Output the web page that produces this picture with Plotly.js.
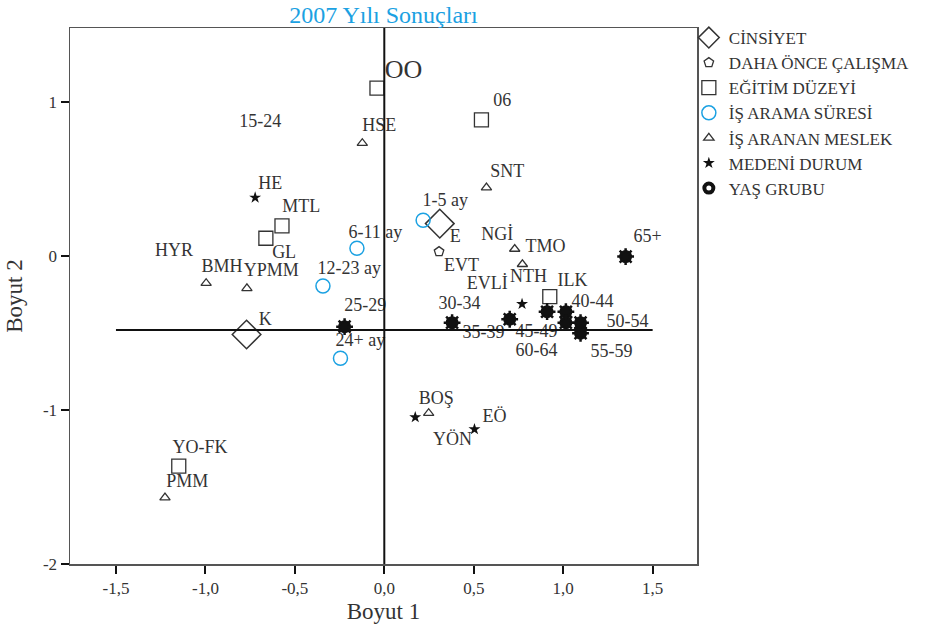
<!DOCTYPE html>
<html><head><meta charset="utf-8">
<script src="https://cdn.plot.ly/plotly-3.0.1.min.js"></script>
<style>body{margin:0;background:#fff}#c{width:929px;height:624px}</style>
</head><body><div id="c"></div>
<script>
// CİNSİYET
const cinsX = [0.31, -0.77];
const cinsY = [0.21, -0.51];
// DAHA ÖNCE ÇALIŞMA
const dahaX = [0.306];
const dahaY = [0.028];
// EĞİTİM DÜZEYİ (OO, 06, MTL, GL, ILK, YO-FK)
const egitX = [-0.041, 0.543, -0.572, -0.662, 0.925, -1.149];
const egitY = [1.089, 0.883, 0.195, 0.115, -0.264, -1.364];
// İŞ ARAMA SÜRESİ (1-5, 6-11, 12-23, 24+)
const aramaX = [0.217, -0.153, -0.343, -0.245];
const aramaY = [0.232, 0.05, -0.195, -0.664];
// İŞ ARANAN MESLEK (HSE, SNT, NGİ/TMO, NTH, BMH, YPMM, YÖN, PMM)
const meslekX = [-0.123, 0.571, 0.729, 0.772, -0.996, -0.768, 0.248, -1.226];
const meslekY = [0.732, 0.444, 0.045, -0.054, -0.177, -0.21, -1.021, -1.569];
// MEDENİ DURUM (HE, EVLİ, BOŞ, EÖ)
const medeniX = [-0.722, 0.770, 0.173, 0.504];
const medeniY = [0.379, -0.312, -1.047, -1.125];
// YAŞ GRUBU (25-29, 30-34, 35-39, 45-49, 40-44, 60-64, 50-54, 55-59, 65+)
const yasX = [-0.222, 0.379, 0.701, 0.910, 1.015, 1.015, 1.097, 1.097, 1.349];
const yasY = [-0.459, -0.433, -0.411, -0.362, -0.362, -0.433, -0.433, -0.502, -0.004];

// Category labels
const labelText = ['OO','06','15-24','HSE','SNT','HE','1-5 ay','MTL','6-11 ay','E','NGİ','TMO','65+','HYR','GL','BMH','YPMM','EVT','12-23 ay','NTH','ILK','EVLİ','40-44','25-29','30-34','K','50-54','35-39','45-49','24+ ay','60-64','55-59','BOŞ','EÖ','YÖN','YO-FK','PMM'];
const labelX = [0.107,0.66,-0.694,-0.028,0.688,-0.638,0.341,-0.464,-0.05,0.397,0.632,0.901,1.472,-1.175,-0.56,-0.907,-0.632,0.431,-0.196,0.806,1.052,0.576,1.164,-0.106,0.42,-0.666,1.36,0.554,0.851,-0.134,0.851,1.27,0.291,0.616,0.381,-1.03,-1.102];
const labelY = [1.195,1.006,0.864,0.838,0.545,0.461,0.351,0.312,0.149,0.117,0.13,0.058,0.117,0.032,0.019,-0.078,-0.104,-0.071,-0.091,-0.143,-0.169,-0.188,-0.299,-0.325,-0.318,-0.422,-0.429,-0.506,-0.5,-0.558,-0.623,-0.63,-0.935,-1.052,-1.195,-1.253,-1.474];

const xTicks = [-1.5,-1.0,-0.5,0,0.5,1.0,1.5];
const xTickText = ['-1,5','-1,0','-0,5','0,0','0,5','1,0','1,5'];
const yTicks = [-2,-1,0,1];
const yTickText = ['-2','-1','0','1'];
const refX = 0;
const refY = -0.48;

const dark = '#333';
const cyan = '#1ba1e2';
const serif = '"Liberation Serif"';

const traces = [
  {x: cinsX, y: cinsY, name: 'CİNSİYET', mode: 'markers', type: 'scatter',
   marker: {symbol: 'diamond-open', size: 22, color: dark, line: {width: 1.5, color: dark}}},
  {x: dahaX, y: dahaY, name: 'DAHA ÖNCE ÇALIŞMA', mode: 'markers', type: 'scatter',
   marker: {symbol: 'pentagon-open', size: 10, color: dark, line: {width: 1.3, color: dark}}},
  {x: egitX, y: egitY, name: 'EĞİTİM DÜZEYİ', mode: 'markers', type: 'scatter',
   marker: {symbol: 'square-open', size: 14, color: dark, line: {width: 1.3, color: dark}}},
  {x: aramaX, y: aramaY, name: 'İŞ ARAMA SÜRESİ', mode: 'markers', type: 'scatter',
   marker: {symbol: 'circle-open', size: 14, color: cyan, line: {width: 1.5, color: cyan}}},
  {x: meslekX, y: meslekY, name: 'İŞ ARANAN MESLEK', mode: 'markers', type: 'scatter',
   marker: {symbol: 'triangle-up-open', size: 9, color: dark, line: {width: 1.3, color: dark}}},
  {x: medeniX, y: medeniY, name: 'MEDENİ DURUM', mode: 'markers', type: 'scatter',
   marker: {symbol: 'star', size: 9, color: '#111', line: {width: 0}}},
  {x: yasX, y: yasY, name: 'YAŞ GRUBU', mode: 'markers', type: 'scatter',
   marker: {symbol: 'circle-open', size: 9, color: '#111', line: {width: 4, color: '#111'}}},
  {x: yasX, y: yasY, name: 'YAŞ GRUBU', mode: 'markers', type: 'scatter', showlegend: false,
   marker: {symbol: 'asterisk-open', size: 14, color: '#111', line: {width: 2.5, color: '#111'}}},
  {x: labelX, y: labelY, text: labelText, mode: 'text', type: 'scatter', showlegend: false,
   textfont: {family: serif, size: labelText.map(t => t === 'OO' ? 26 : 18), color: dark},
   hoverinfo: 'skip'}
];

const layout = {
  width: 929, height: 624,
  margin: {l: 70, r: 232, t: 28, b: 60, autoexpand: false},
  paper_bgcolor: '#fff', plot_bgcolor: '#fff',
  font: {family: serif, color: dark, size: 15},
  title: {text: '2007 Yılı Sonuçları', font: {family: serif, size: 24, color: cyan},
          x: 0.5, xref: 'paper', xanchor: 'center', y: 0.976, yanchor: 'middle'},
  xaxis: {range: [-1.757, 1.748], tickvals: xTicks, ticktext: xTickText,
          showgrid: false, zeroline: false, showline: true, mirror: true, linecolor: '#555', linewidth: 1.5,
          ticks: 'outside', ticklen: 8, tickwidth: 2, tickcolor: '#111',
          tickfont: {family: serif, size: 17, color: dark},
          title: {text: 'Boyut 1', font: {family: serif, size: 23, color: dark}, standoff: 10}},
  yaxis: {range: [-2, 1.48], tickvals: yTicks, ticktext: yTickText,
          showgrid: false, zeroline: false, showline: true, mirror: true, linecolor: '#555', linewidth: 1.5,
          ticks: 'outside', ticklen: 8, tickwidth: 2, tickcolor: '#111',
          tickfont: {family: serif, size: 17, color: dark},
          title: {text: 'Boyut 2', font: {family: serif, size: 23, color: dark}, standoff: 14}},
  legend: {x: 0.987, xanchor: 'left', y: 1.015, yanchor: 'top',
           bgcolor: 'rgba(0,0,0,0)',
           font: {family: serif, size: 17, color: dark}, tracegroupgap: 0, itemwidth: 30},
  shapes: [
    {type: 'line', xref: 'x', yref: 'paper', x0: refX, x1: refX, y0: 0, y1: 1, line: {color: '#111', width: 2}},
    {type: 'line', xref: 'x', yref: 'y', x0: xTicks[0], x1: xTicks[xTicks.length-1], y0: refY, y1: refY, line: {color: '#111', width: 2}}
  ],
  showlegend: true
};

Plotly.newPlot('c', traces, layout, {displayModeBar: false, staticPlot: true});
</script></body></html>
